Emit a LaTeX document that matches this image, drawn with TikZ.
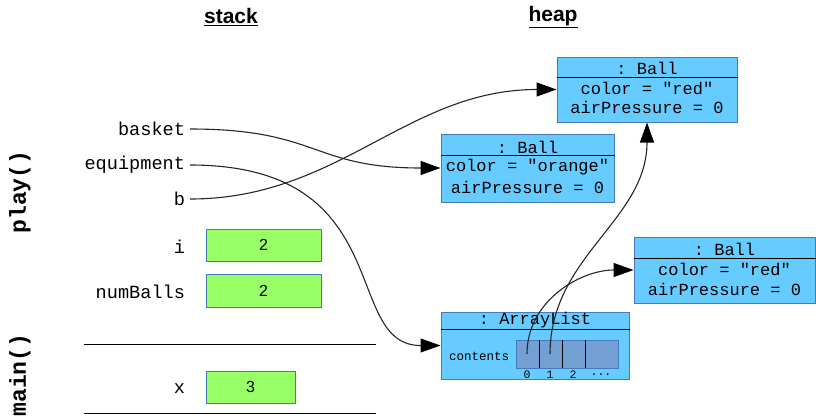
\documentclass[tikz,border=0pt]{standalone}
\usepackage{fontspec}
\setmainfont{Liberation Sans}
\setmonofont{Liberation Mono}
\usetikzlibrary{arrows.meta}
\definecolor{objfill}{RGB}{102,204,255}
\definecolor{objline}{RGB}{70,120,190}
\definecolor{cellfill}{RGB}{115,160,210}
\definecolor{valfill}{RGB}{153,255,102}

\begin{document}
\begin{tikzpicture}[x=1pt,y=-1pt,
  var/.style={anchor=east,inner sep=0pt,outer sep=5pt,font=\ttfamily\fontsize{18.6}{18.6}\selectfont},
  val/.style={draw=objline,fill=valfill,line width=1pt,font=\fontsize{16}{16}\selectfont},
  obj/.style={draw=objline,fill=objfill,line width=1pt},
  field/.style={font=\ttfamily\fontsize{17}{17}\selectfont,inner sep=0pt},
  idx/.style={font=\ttfamily\fontsize{11.5}{11.5}\selectfont,inner sep=0pt},
  frame/.style={font=\ttfamily\bfseries\fontsize{23}{23}\selectfont,rotate=90},
  ref/.style={draw=black!85,line width=1.1pt,-{Triangle[length=20pt,width=14pt,color=black]}}]
\useasboundingbox (0,0) rectangle (816,418);

\node[font=\bfseries\fontsize{21}{21}\selectfont] (stack) at (231,17) {\underline{stack}};
\node[font=\bfseries\fontsize{21}{21}\selectfont] (heap) at (553,17) {\underline{heap}};
\node[frame] (play) at (20,192) {play()};
\node[frame] (main) at (20,375) {main()};

\node[var] (basket) at (190,129) {basket};
\node[var] (equipment) at (190,165) {equipment};
\node[var] (b) at (190,199) {b};
\node[var] (i) at (190,247) {i};
\node[var] (numBalls) at (190,292) {numBalls};
\node[var] (x) at (190,389) {x};

\node[val,minimum width=115,minimum height=32] (ival) at (263.5,245) {2};
\node[val,minimum width=115,minimum height=33] (nval) at (263.5,290.5) {2};
\node[val,minimum width=89,minimum height=32] (xval) at (250.5,387) {3};
\draw[line width=1pt] (84,344) -- (376,344);
\draw[line width=1pt] (84,413) -- (376,413);

\node[obj,minimum width=180,minimum height=65] (ballA) at (647,89.5) {};
\draw[line width=1pt] (ballA.west |- 0,77) -- (ballA.east |- 0,77);
\node[field] at (647,68) {: Ball};
\node[field] at (647,88) {color = "red"};
\node[field] at (647,107) {airPressure = 0};

\node[obj,minimum width=173,minimum height=68] (ballB) at (527.5,168) {};
\draw[line width=1pt] (ballB.west |- 0,155) -- (ballB.east |- 0,155);
\node[field] at (527.5,147) {: Ball};
\node[field] at (527.5,167) {color = "orange"};
\node[field] at (527.5,187) {airPressure = 0};

\node[obj,minimum width=181,minimum height=66] (ballC) at (724.5,270) {};
\draw[line width=1pt] (ballC.west |- 0,258) -- (ballC.east |- 0,258);
\node[field] at (724.5,249) {: Ball};
\node[field] at (724.5,269) {color = "red"};
\node[field] at (724.5,289) {airPressure = 0};

\node[obj,minimum width=188,minimum height=67] (list) at (535,345.5) {};
\draw[line width=1pt] (list.west |- 0,329) -- (list.east |- 0,329);
\node[field] at (535,320) {: ArrayList};
\node[field,font=\ttfamily\fontsize{12.5}{12.5}\selectfont] (contents) at (479,356) {contents};
\node[draw=objline,fill=cellfill,line width=1pt,minimum width=102,minimum height=28] (cells) at (567,354) {};
\foreach \cx in {539,562,585}
  \draw[line width=1pt] (\cx,340) -- (\cx,368);
\foreach \cx/\lbl in {527/0,550/1,573/2}
  \node[idx] at (\cx,375) {\lbl};
\node[idx] (dots) at (601,375) {...};
\coordinate (c0) at (527,354);
\coordinate (c1) at (550,354);

\draw[ref] (basket.east) to[out=0,in=180,looseness=1.3] (ballB.west);
\draw[ref] (equipment.east) .. controls +(210,0) and +(-100,0) .. (list.west);
\draw[ref] (b.east) to[out=0,in=180] (ballA.west);
\draw[ref] (c0) to[out=90,in=180] (ballC.west);
\draw[ref] (c1) to[out=90,in=270] (ballA.south);

\end{tikzpicture}
\end{document}
